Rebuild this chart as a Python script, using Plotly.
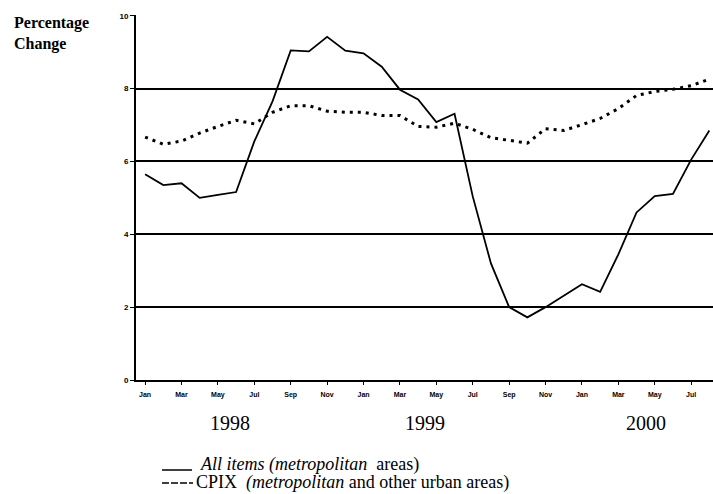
import plotly.graph_objects as go

# Monthly data, Jan 1998 - Aug 2000
months = ["Jan", "Feb", "Mar", "Apr", "May", "Jun", "Jul", "Aug", "Sep", "Oct", "Nov", "Dec"]
years = ["1998", "1999", "2000"]
all_items = [5.65, 5.35, 5.40, 5.00, 5.08, 5.16, 6.55, 7.65, 9.05, 9.02, 9.42, 9.04,
             8.97, 8.60, 7.97, 7.70, 7.08, 7.31, 5.04, 3.20, 2.00, 1.72, 2.00, 2.31,
             2.63, 2.42, 3.45, 4.60, 5.05, 5.11, 6.05, 6.85]
cpix = [6.67, 6.47, 6.56, 6.78, 6.96, 7.13, 7.03, 7.35, 7.53, 7.53, 7.38, 7.35,
        7.35, 7.26, 7.26, 6.96, 6.94, 7.05, 6.88, 6.65, 6.58, 6.50, 6.90, 6.85,
        7.01, 7.18, 7.45, 7.81, 7.92, 7.98, 8.08, 8.26]
y_ticks = [0, 2, 4, 6, 8, 10]
series_names = ["<i>All items (metropolitan</i>  areas)",
                "CPIX  <i>(metropolitan</i> and other urban areas)"]

n = len(all_items)
x_idx = list(range(n))
tick_vals = [i for i in x_idx if i % 2 == 0]
tick_text = [months[i % 12] for i in tick_vals]

fig = go.Figure()
fig.add_trace(go.Scatter(x=x_idx, y=all_items, mode="lines", name=series_names[0],
                         line=dict(color="black", width=1.8), showlegend=False))
fig.add_trace(go.Scatter(x=x_idx, y=cpix, mode="lines", name=series_names[1],
                         line=dict(color="black", width=3, dash="3px,5px"), showlegend=False))

serif = "Liberation Serif, Times New Roman, serif"

fig.update_layout(
    width=713, height=494,
    margin=dict(l=136, r=0, t=15, b=114),
    paper_bgcolor="white", plot_bgcolor="white",
    xaxis=dict(range=[-0.5, 31.2], tickvals=tick_vals, ticktext=tick_text,
               showgrid=False, zeroline=False, showline=True, linecolor="black",
               linewidth=2, ticks="outside", ticklen=3, tickcolor="black",
               ticklabelstandoff=4,
               tickfont=dict(family="Liberation Sans, Arial", size=7, color="black", weight="bold")),
    yaxis=dict(range=[0, 10.02], tickvals=y_ticks, showgrid=True, gridcolor="black",
               gridwidth=1.5, zeroline=False, showline=True, linecolor="black",
               linewidth=2, ticks="outside", ticklen=4, tickcolor="black",
               tickfont=dict(family="Liberation Sans, Arial", size=8, color="black", weight="bold")),
)

# Axis title at the top-left
fig.add_annotation(x=(12 - 136) / 577, y=(380 - 12) / 365, xref="paper", yref="paper",
                   text="Percentage<br>Change", showarrow=False, xanchor="left", yanchor="top",
                   align="left", font=dict(family=serif, size=16, color="black", weight="bold"))

# Year labels under the month ticks
year_pos = [4.66, 15.4, 27.5]
for yr, xp in zip(years, year_pos):
    fig.add_annotation(x=xp, y=-0.118, xref="x", yref="paper", text=yr, showarrow=False,
                       font=dict(family=serif, size=20, color="black"),
                       xanchor="center", yanchor="middle")

# Legend (drawn manually to match the tight row spacing)
fig.add_shape(type="line", xref="paper", yref="paper", x0=(162 - 136) / 577, x1=(192 - 136) / 577,
              y0=(380 - 470) / 365, y1=(380 - 470) / 365, line=dict(color="black", width=1.5))
fig.add_shape(type="line", xref="paper", yref="paper", x0=(162 - 136) / 577, x1=(193 - 136) / 577,
              y0=(380 - 483) / 365, y1=(380 - 483) / 365,
              line=dict(color="black", width=1.5, dash="7px,2px"))
fig.add_annotation(x=(198 - 136) / 577, y=(380 - 464) / 365, xref="paper", yref="paper",
                   text=series_names[0], showarrow=False, xanchor="left", yanchor="middle",
                   font=dict(family=serif, size=18, color="black"))
fig.add_annotation(x=(194 - 136) / 577, y=(380 - 482) / 365, xref="paper", yref="paper",
                   text=series_names[1], showarrow=False, xanchor="left", yanchor="middle",
                   font=dict(family=serif, size=18, color="black"))

fig.write_html("out.html", config={"displayModeBar": False},
               post_script="document.body.style.margin='0';document.body.style.overflow='hidden';")
